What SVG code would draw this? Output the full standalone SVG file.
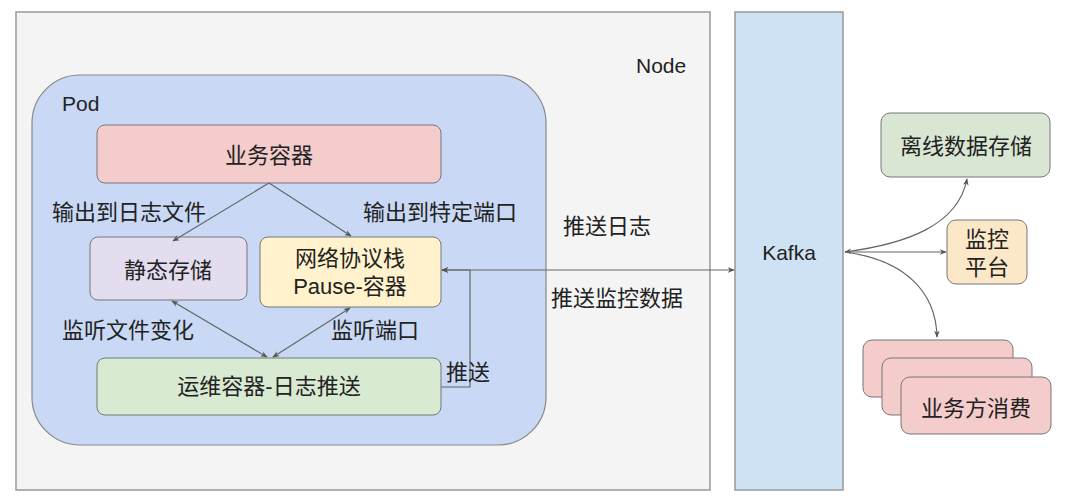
<svg xmlns="http://www.w3.org/2000/svg" width="1080" height="504" viewBox="0 0 1080 504">
<defs>
<marker id="ah" viewBox="0 0 10 10" refX="9" refY="5" markerWidth="7" markerHeight="7" orient="auto-start-reverse" markerUnits="userSpaceOnUse">
<path d="M0,1 L10,5 L0,9 L3,5 Z" fill="#555"/>
</marker>
<style>
text{font-family:"Liberation Sans","Noto Sans CJK SC",sans-serif;font-size:22px;fill:#222;dominant-baseline:central}
.c{text-anchor:middle}
.e{font-size:21px}
.box{stroke:#777;stroke-width:1}
.ln{fill:none;stroke:#666;stroke-width:1.2}
</style>
</defs>
<rect width="1080" height="504" fill="#ffffff"/>
<g id="node">
<rect x="16" y="12" width="694" height="478" fill="#f4f4f4" stroke="#999" stroke-width="1.5"/>
<text class="e" x="636" y="65">Node</text>
</g>
<g id="pod">
<rect x="32" y="75" width="514" height="370" rx="48" fill="#c9d9f5" stroke="#888" stroke-width="1.2"/>
<text class="e" x="62" y="103">Pod</text>
</g>
<g id="biz">
<rect class="box" x="97" y="125" width="344" height="58" rx="8" fill="#f4cccc"/>
<text class="c" x="269" y="155">业务容器</text>
</g>
<g id="static">
<rect class="box" x="90" y="237" width="157" height="63" rx="8" fill="#e4dcef"/>
<text class="c" x="168" y="270">静态存储</text>
</g>
<g id="pause">
<rect class="box" x="260" y="237" width="181" height="70" rx="8" fill="#fff2cc"/>
<text class="c" x="350" y="258">网络协议栈</text>
<text class="c" x="350" y="286">Pause-容器</text>
</g>
<g id="ops">
<rect class="box" x="97" y="358" width="344" height="57" rx="8" fill="#d9ead3"/>
<text class="c" x="269" y="386">运维容器-日志推送</text>
</g>
<g id="kafka">
<rect x="735" y="12" width="108" height="478" fill="#cfe2f3" stroke="#999" stroke-width="1.5"/>
<text class="c e" x="789" y="252">Kafka</text>
</g>
<g id="offline">
<rect class="box" x="881" y="113" width="169" height="64" rx="9" fill="#d9e6d3"/>
<text class="c" x="966" y="146">离线数据存储</text>
</g>
<g id="monitor">
<rect class="box" x="947" y="220" width="80" height="64" rx="9" fill="#fce8c8"/>
<text class="c" x="987" y="239">监控</text>
<text class="c" x="987" y="267">平台</text>
</g>
<g id="consumer">
<rect class="box" x="863" y="340" width="150" height="57" rx="9" fill="#f4cccc"/>
<rect class="box" x="882" y="358" width="150" height="57" rx="9" fill="#f4cccc"/>
<rect class="box" x="901" y="377" width="150" height="57" rx="9" fill="#f4cccc"/>
<text class="c" x="976" y="408">业务方消费</text>
</g>
<g id="connectors">
<path class="ln" d="M269,183 L173,241" marker-end="url(#ah)"/>
<path class="ln" d="M269,183 L351,236" marker-end="url(#ah)"/>
<path class="ln" d="M172,301 L267,357" marker-start="url(#ah)" marker-end="url(#ah)"/>
<path class="ln" d="M350,308 L273,357" marker-start="url(#ah)" marker-end="url(#ah)"/>
<path class="ln" d="M441,387 L470,387 L470,270 L442,270" marker-end="url(#ah)"/>
<path class="ln" d="M442,270 L734,270" marker-start="url(#ah)" marker-end="url(#ah)"/>
<path class="ln" d="M845,252 C905,244 958,226 967,179" marker-start="url(#ah)" marker-end="url(#ah)"/>
<path class="ln" d="M845,252 L946,252" marker-end="url(#ah)"/>
<path class="ln" d="M845,252 C905,260 936,292 937,337" marker-end="url(#ah)"/>
</g>
<g id="labels">
<text x="52" y="212">输出到日志文件</text>
<text x="363" y="212">输出到特定端口</text>
<text x="62" y="330">监听文件变化</text>
<text x="331" y="330">监听端口</text>
<text x="446" y="372">推送</text>
<text x="563" y="226">推送日志</text>
<text x="551" y="298">推送监控数据</text>
</g>
</svg>
